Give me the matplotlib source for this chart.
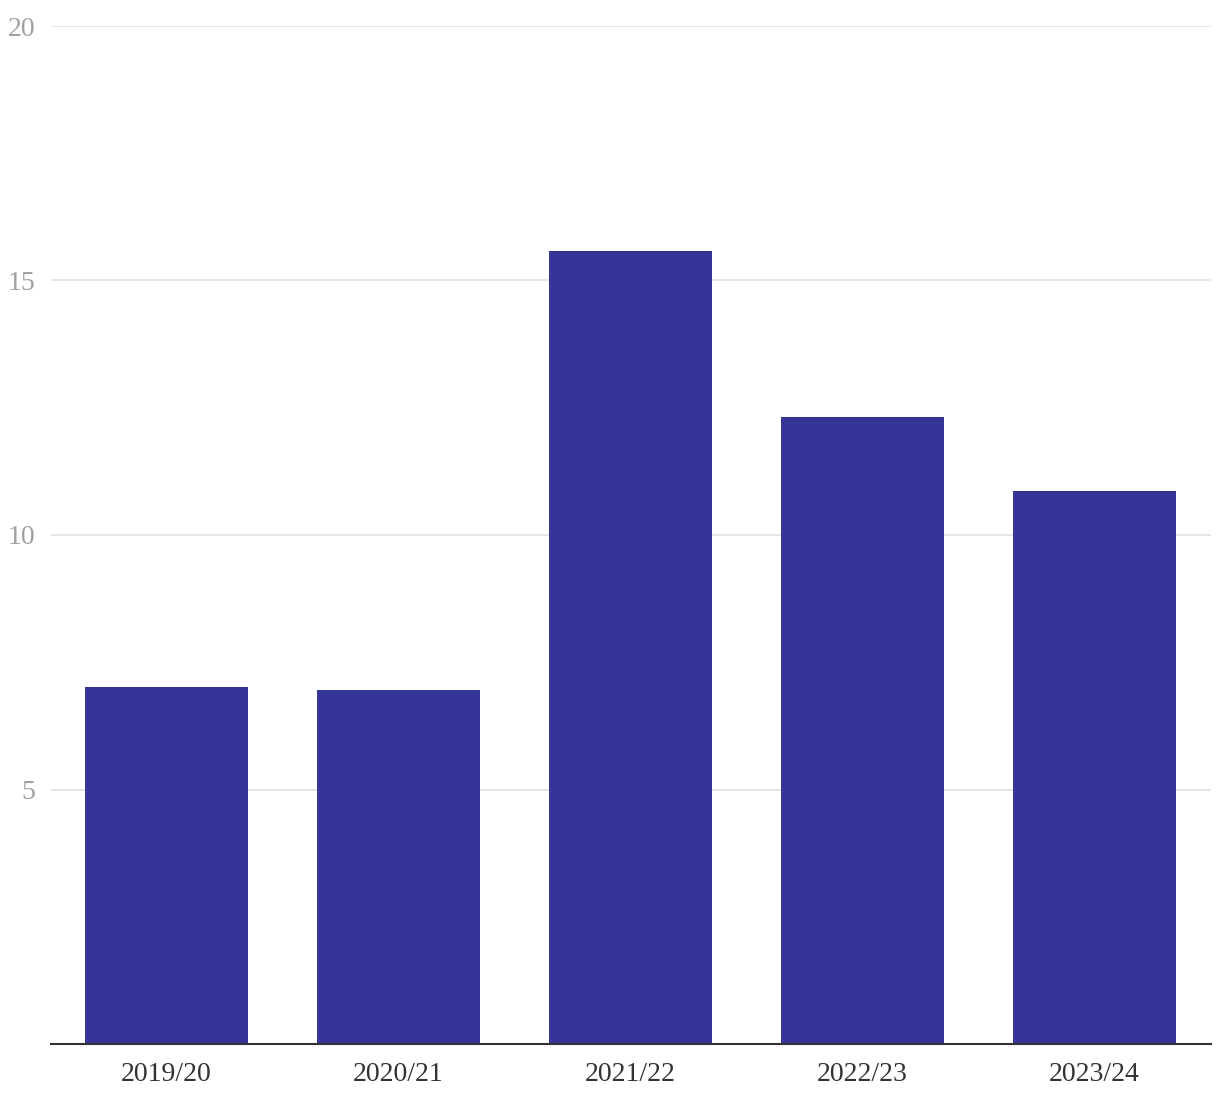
import matplotlib
matplotlib.use('Agg')
import matplotlib.pyplot as plt

# data
seasons = ['2019/20', '2020/21', '2021/22', '2022/23', '2023/24']
values = [7.01, 6.95, 15.58, 12.32, 10.86]
yticks = [5, 10, 15, 20]

plt.rcParams['font.family'] = ['Liberation Serif', 'DejaVu Serif']

fig = plt.figure(figsize=(12.2, 11.02), dpi=100)
W, H = 1220, 1102
ax = fig.add_axes([50.5 / W, (H - 1044) / H, 1160 / W, (1044 - 26) / H])

x = range(len(seasons))
ax.bar(x, values, width=0.7, color='#353598', zorder=3)

ax.set_xlim(-0.5, len(seasons) - 0.5)
ax.set_ylim(0, 20)
ax.set_yticks(yticks)
ax.set_xticks(list(x))
ax.set_xticklabels(seasons)

#gridlines and spines
ax.yaxis.grid(True, color='#e3e3e3', linewidth=1.3, zorder=0)
for s in ['top', 'right', 'left']:
    ax.spines[s].set_visible(False)
ax.spines['bottom'].set_color('#333333')
ax.spines['bottom'].set_linewidth(1.5)
ax.spines['bottom'].set_zorder(4)

ax.tick_params(axis='y', length=0, pad=11, labelsize=20, labelcolor='#a0a0a0')
ax.tick_params(axis='x', length=0, pad=13, labelsize=20, labelcolor='#333333')

plt.savefig('out.png', dpi=100)
plt.close()
